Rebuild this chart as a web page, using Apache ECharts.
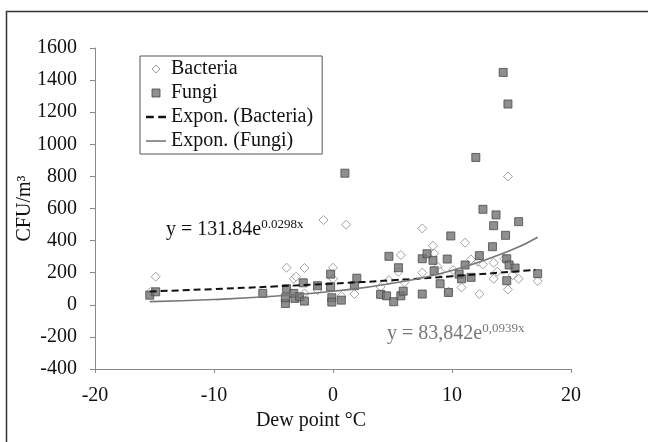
<!DOCTYPE html>
<html>
<head>
<meta charset="utf-8">
<script src="https://cdn.jsdelivr.net/npm/echarts@6/dist/echarts.min.js"></script>
<style>
html,body{margin:0;padding:0;background:#fff;}
#chart{width:648px;height:442px;}
</style>
</head>
<body>
<div id="chart"></div>
<script>
const bacteriaX = [-15.3,-14.9,-3.9,-3.3,-3.1,-2.4,-2.4,-1.3,-0.8,0.0,0.0,0.7,1.1,1.8,4.0,4.7,5.5,5.7,6.0,7.5,7.5,8.4,8.5,8.8,9.0,9.7,10.1,10.8,11.1,11.6,12.2,12.3,12.6,13.5,13.5,13.8,14.7,14.7,14.4,15.1,15.6,17.2];
const bacteriaY = [81,175,231,162,175,229,71,92,528,231,162,54,499,67,112,154,206,310,140,476,200,368,320,237,206,81,216,108,387,283,268,67,252,262,162,206,799,96,287,185,162,148];
const fungiX = [-15.4,-14.9,-5.9,-4.0,-4.0,-3.9,-3.3,-3.2,-2.8,-2.5,-2.4,-1.3,-0.2,-0.2,-0.1,-0.1,0.7,1.0,1.8,2.0,4.0,4.5,4.7,5.1,5.5,5.7,5.9,7.5,7.5,7.9,8.4,8.5,9.0,9.6,9.7,9.9,10.6,10.8,11.1,11.6,12.0,12.3,12.6,13.4,13.5,13.7,14.3,14.5,14.6,14.7,14.6,14.8,15.3,15.6,17.2];
const fungiY = [60,81,71,8,44,100,71,40,50,137,23,119,191,112,44,17,29,820,119,166,65,56,302,19,231,56,85,287,67,318,277,212,131,285,77,429,191,162,248,171,918,306,595,362,493,560,1448,433,287,1251,150,248,229,518,194];
// Trend lines
const bacteriaTrendX = [-15.4,-10,-5,0,5,10,15,17.0];
const bacteriaTrendY = [83,98,114,132,153,178,206,218];
const fungiTrendX = [-15.4,-10,-5,0,5,10,15,17.2];
const fungiTrendY = [20,33,53,84,134,214,342,421];
const yTicks = [-400,-200,0,200,400,600,800,1000,1200,1400,1600];
const xTicks = [-20,-10,0,10,20];

const zip = (a,b) => a.map((v,i)=>[v,b[i]]);
const serif = '"Liberation Serif","Times New Roman",serif';

const chart = echarts.init(document.getElementById('chart'));
chart.setOption({
  animation:false,
  backgroundColor:'#fff',
  grid:{left:95, right:77, top:48, bottom:73},
  xAxis:{
    type:'value', min:xTicks[0], max:xTicks[xTicks.length-1], interval:10,
    name:'Dew point °C', nameLocation:'middle', nameGap:40,
    nameTextStyle:{fontFamily:serif, fontSize:20, color:'#111', padding:[0,44,0,0]},
    axisLine:{show:true, onZero:false, lineStyle:{color:'#888', width:1}},
    axisTick:{show:true, length:4, lineStyle:{color:'#888'}},
    axisLabel:{fontFamily:serif, fontSize:20, color:'#111', margin:17, formatter:v=>String(v)},
    splitLine:{show:false}
  },
  yAxis:{
    type:'value', min:yTicks[0], max:yTicks[yTicks.length-1], interval:200,
    name:'CFU/m³', nameLocation:'middle', nameGap:60, nameRotate:90, nameMoveOverlap:false,
    nameTextStyle:{fontFamily:serif, fontSize:20, color:'#111'},
    axisLine:{show:true, onZero:false, lineStyle:{color:'#888', width:1}},
    axisTick:{show:true, length:5, lineStyle:{color:'#888'}},
    axisLabel:{fontFamily:serif, fontSize:20, color:'#111', margin:18, formatter:v=>String(v)},
    splitLine:{show:false}
  },
  legend:{
    orient:'vertical', left:140, top:56,
    padding:[3,9,3,6], itemGap:4, itemWidth:20, itemHeight:8,
    symbolKeepAspect:true,
    borderColor:'#555', borderWidth:1, backgroundColor:'#fff',
    textStyle:{fontFamily:serif, fontSize:20, color:'#111', lineHeight:19},
    data:[
      {name:'Bacteria', icon:'path://M3,0L6,3L3,6L0,3Z',
       itemStyle:{color:'#fff', borderColor:'#8a8a8a', borderWidth:1}},
      {name:'Fungi', icon:'path://M0,0h7v7h-7z',
       itemStyle:{color:'#737373', borderColor:'#4a4a4a', borderWidth:1}},
      {name:'Expon. (Bacteria)', icon:'path://M0,0h7v2.2h-7z M11,0h7v2.2h-7z',
       itemStyle:{color:'#111', borderWidth:0}},
      {name:'Expon. (Fungi)', icon:'path://M0,0h20v1.6h-20z',
       itemStyle:{color:'#777', borderWidth:0}}
    ]
  },
  series:[
    {name:'Bacteria', type:'scatter', symbol:'diamond', symbolSize:9,
     itemStyle:{color:'#fff', borderColor:'#8a8a8a', borderWidth:1},
     data:zip(bacteriaX,bacteriaY), z:2},
    {name:'Fungi', type:'scatter', symbol:'rect', symbolSize:8,
     itemStyle:{color:'#737373', borderColor:'#4a4a4a', borderWidth:1},
     data:zip(fungiX,fungiY), z:3},
    {name:'Expon. (Bacteria)', type:'line', smooth:true, symbol:'none', showSymbol:false,
     lineStyle:{color:'#111', width:2, type:[7,4]}, itemStyle:{color:'#111'},
     data:zip(bacteriaTrendX,bacteriaTrendY), z:4},
    {name:'Expon. (Fungi)', type:'line', smooth:true, symbol:'none', showSymbol:false,
     lineStyle:{color:'#777', width:1.6}, itemStyle:{color:'#777'},
     data:zip(fungiTrendX,fungiTrendY), z:4}
  ],
  graphic:[
    {type:'polyline', silent:true, z:-1,
     shape:{points:[[6.5,442],[6.5,11.5],[648,11.5]]},
     style:{fill:null, stroke:'#333', lineWidth:1.5}},
    {type:'text', left:166, top:214, silent:true,
     style:{text:'{a|y = 131.84e}{b|0.0298x}', fill:'#111',
       rich:{a:{fontFamily:serif, fontSize:20, lineHeight:26, verticalAlign:'bottom'},
             b:{fontFamily:serif, fontSize:13, lineHeight:13, verticalAlign:'top', padding:[4,0,0,0]}}}},
    {type:'text', left:387, top:318, silent:true,
     style:{text:'{a|y = 83,842e}{b|0,0939x}', fill:'#777',
       rich:{a:{fontFamily:serif, fontSize:20, lineHeight:26, verticalAlign:'bottom'},
             b:{fontFamily:serif, fontSize:13, lineHeight:13, verticalAlign:'top', padding:[4,0,0,0]}}}}
  ]
});
</script>
</body>
</html>
